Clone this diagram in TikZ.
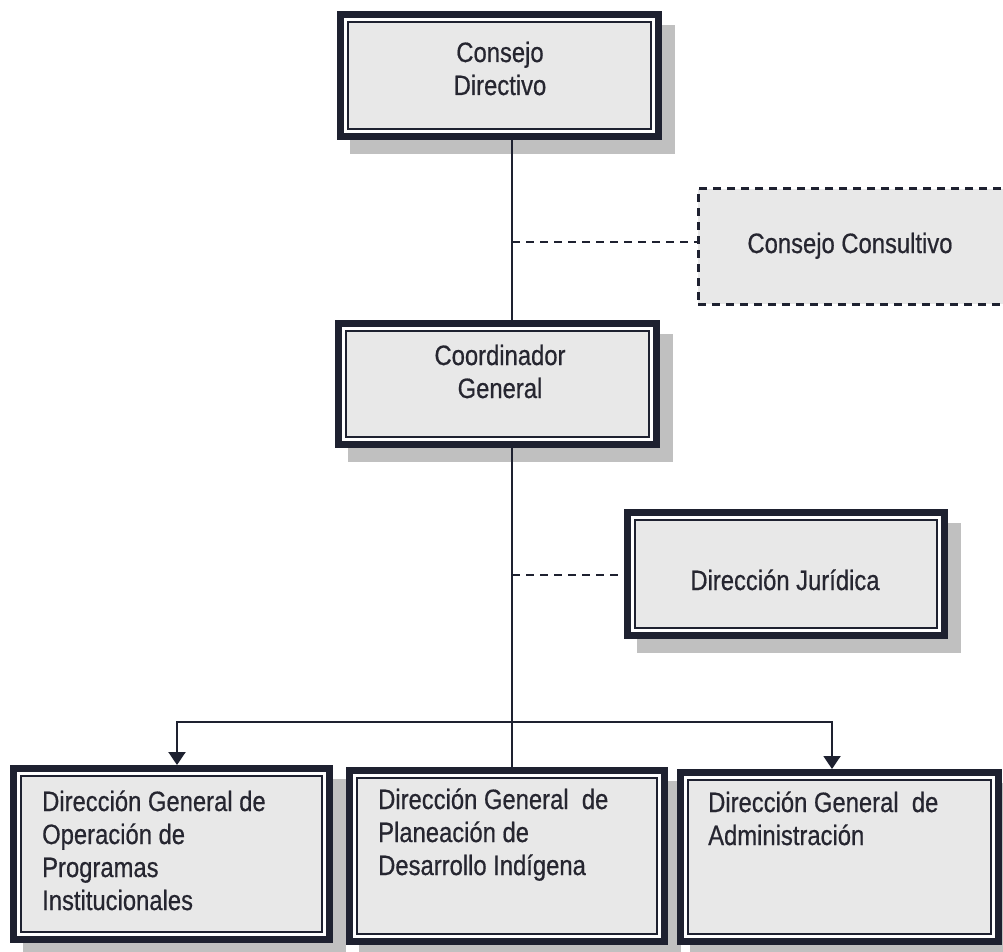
\documentclass[tikz,border=0pt]{standalone}
\usepackage{fontspec}
\setmainfont{Liberation Sans}[FakeStretch=0.85,FakeBold=0.6]
\usetikzlibrary{arrows.meta,shadows}
\definecolor{ink}{RGB}{30,33,48}
\definecolor{boxfill}{RGB}{232,232,232}
\definecolor{shade}{RGB}{192,192,192}
\definecolor{txt}{RGB}{38,38,48}
\newcommand\orgC[1]{\begin{tabular}[t]{@{}c@{}}#1\end{tabular}}
\newcommand\orgL[1]{\begin{tabular}[t]{@{}l@{}}#1\end{tabular}}
\tikzset{
  orgbox/.style={rectangle, draw=ink, line width=7pt, fill=boxfill, inner sep=0pt, outer sep=0pt,
    drop shadow={shadow xshift=13pt, shadow yshift=-14pt, fill=shade, draw=shade, line width=7pt, opacity=1}},
  consbox/.style={rectangle, draw=ink, line width=3pt, dash pattern=on 8pt off 6pt, fill=boxfill, inner sep=0pt, outer sep=0pt},
  lbl/.style={text=txt, inner sep=0pt, font=\fontsize{28}{33}\selectfont},
  conn/.style={draw=ink, line width=2pt},
  dashconn/.style={draw=ink, line width=2.6pt, dash pattern=on 8pt off 6pt},
  arr/.style={conn, -{Triangle[length=13pt,width=17pt]}},
  innerline/.style={draw=ink, line width=2pt},
  gapline/.style={draw=white, line width=3.2pt}
}
\begin{document}
\begin{tikzpicture}[x=1pt,y=-1pt]
\clip (0,0) rectangle (1003,952);
\fill[white] (0,0) rectangle (1003,952);

% boxes
\node[orgbox, minimum width=318pt, minimum height=122pt] (cd) at (499.5,75.5) {};
\node[consbox, minimum width=311pt, minimum height=115pt] (cc) at (853.5,246.5) {};
\node[orgbox, minimum width=318pt, minimum height=121pt] (cg) at (497.5,384) {};
\node[orgbox, minimum width=317pt, minimum height=123pt] (dj) at (786,574) {};
\node[orgbox, minimum width=316pt, minimum height=171pt] (b1) at (171.5,854) {};
\node[orgbox, minimum width=315pt, minimum height=171pt] (b2) at (507,856) {};
\node[orgbox, minimum width=318pt, minimum height=169pt] (b3) at (839.5,857) {};

\foreach \n in {cd,cg,dj,b1,b2,b3}{
  \draw[gapline] ([shift={(5,5)}]\n.north west) rectangle ([shift={(-5,-5)}]\n.south east);
  \draw[innerline] ([shift={(7.6,7.6)}]\n.north west) rectangle ([shift={(-7.6,-7.6)}]\n.south east);
}

% connectors
\coordinate (sp) at (512,0);
\coordinate (cj) at (512,242);
\coordinate (djj) at (512,575);
\coordinate (hj) at (512,722);
\draw[conn] (cd.south -| sp) -- (cg.north -| sp);
\draw[conn] (cg.south -| sp) -- (b2.north -| sp);
\draw[dashconn] (cj) -- (cj -| cc.west);
\draw[dashconn] (djj) -- (djj -| dj.west);
\draw[arr] (hj) -| ([xshift=5.5pt,yshift=3.5pt]b1.north);
\draw[arr] (hj) -| ([xshift=-7.5pt,yshift=3.5pt]b3.north);

% texts
\node[lbl, anchor=base] (tcd) at (500,62) {\orgC{Consejo\\Directivo}};
\node[lbl, anchor=base] (tcc) at (850,253) {Consejo Consultivo};
\node[lbl, anchor=base] (tcg) at (500,365) {\orgC{Coordinador\\General}};
\node[lbl, anchor=base] (tdj) at (785,590) {Dirección Jurídica};
\node[lbl, anchor=base west] (tb1) at (42,811) {\orgL{Dirección General de\\Operación de\\Programas\\Institucionales}};
\node[lbl, anchor=base west] (tb2) at (378,809) {\orgL{Dirección General\ \ de\\Planeación de\\Desarrollo Indígena}};
\node[lbl, anchor=base west] (tb3) at (708,812) {\orgL{Dirección General\ \ de\\Administración}};
\end{tikzpicture}
\end{document}
